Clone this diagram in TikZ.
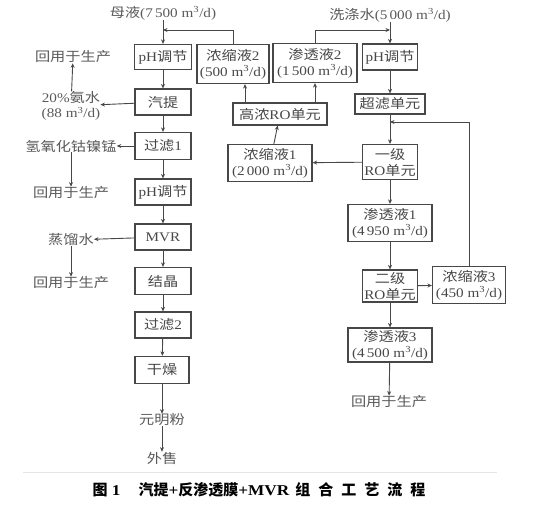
\documentclass[tikz,border=0pt]{standalone}
\usepackage{fontspec}
\setmainfont{Liberation Serif}[FakeStretch=1.15]
\newfontfamily\cjk{Noto Sans CJK SC}[FakeStretch=1.15]
\newfontfamily\capcjk{Noto Sans CJK SC}
\usetikzlibrary{arrows.meta}
\newcommand\zh[1]{{\cjk #1}}
\newcommand\mcube{m\textsuperscript{3}/d}
\tikzset{
  box/.style={draw=black!72, line width=1.2pt, inner sep=0pt, align=center,
    text=black!72, font=\fontsize{13.2}{16}\selectfont},
  lbl/.style={inner sep=0pt, align=center, text=black!65,
    font=\fontsize{13.2}{15}\selectfont},
  arr/.style={draw=black!72, line width=0.9pt, -{Stealth[length=4.5pt,width=4pt]}},
  ln/.style={draw=black!72, line width=0.9pt}
}
\begin{document}
\begin{tikzpicture}[x=1pt,y=-1pt]
\useasboundingbox (0,0) rectangle (533,508);
% left column
\node[lbl] (mu) at (163,13) {\zh{母液}(7\,500 \mcube)};
\node[box, minimum width=57pt, minimum height=25pt] (ph1) at (163,57) {pH\zh{调节}};
\node[box, minimum width=56pt, minimum height=26pt] (qt) at (163,102) {\zh{汽提}};
\node[box, minimum width=56pt, minimum height=27pt] (gl1) at (163,146) {\zh{过滤}1};
\node[box, minimum width=56pt, minimum height=26pt] (ph2) at (163,192) {pH\zh{调节}};
\node[box, minimum width=56pt, minimum height=26pt] (mvr) at (163,237) {MVR};
\node[box, minimum width=56pt, minimum height=27pt] (jj) at (163,281) {\zh{结晶}};
\node[box, minimum width=56pt, minimum height=26pt] (gl2) at (163,325) {\zh{过滤}2};
\node[box, minimum width=54pt, minimum height=27pt] (gz) at (162,370) {\zh{干燥}};
\node[lbl] (ymf) at (162,420) {\zh{元明粉}};
\node[lbl] (ws) at (162,458) {\zh{外售}};
% left side outputs
\node[lbl] (hy1) at (73,57) {\zh{回用于生产}};
\node[lbl] (an) at (71,106) {20\%\zh{氨水}\\(88 \mcube)};
\node[lbl] (qy) at (71,146) {\zh{氢氧化钴镍锰}};
\node[lbl] (hy2) at (71,193) {\zh{回用于生产}};
\node[lbl] (zls) at (71,240) {\zh{蒸馏水}};
\node[lbl] (hy3) at (71,283) {\zh{回用于生产}};
% middle
\node[box, minimum width=72pt, minimum height=39pt] (nsy2) at (233,64) {\zh{浓缩液}2\\(500 \mcube)};
\node[box, minimum width=84pt, minimum height=39pt] (sty2) at (315,63) {\zh{渗透液}2\\(1\,500 \mcube)};
\node[box, minimum width=94pt, minimum height=22pt] (gn) at (280,114) {\zh{高浓}RO\zh{单元}};
\node[box, minimum width=84pt, minimum height=37pt] (nsy1) at (270,163) {\zh{浓缩液}1\\(2\,000 \mcube)};
% right column
\node[lbl] (xds) at (390,15) {\zh{洗涤水}(5\,000 \mcube)};
\node[box, minimum width=55pt, minimum height=26pt] (ph3) at (390,57) {pH\zh{调节}};
\node[box, minimum width=70pt, minimum height=20pt] (cl) at (390,104) {\zh{超滤单元}};
\node[box, minimum width=55pt, minimum height=35pt] (ro1) at (390,162) {\zh{一级}\\RO\zh{单元}};
\node[box, minimum width=84pt, minimum height=37pt] (sty1) at (390,223) {\zh{渗透液}1\\(4\,950 \mcube)};
\node[box, minimum width=55pt, minimum height=32pt] (ro2) at (390,286) {\zh{二级}\\RO\zh{单元}};
\node[box, minimum width=73pt, minimum height=37pt] (nsy3) at (469,285) {\zh{浓缩液}3\\(450 \mcube)};
\node[box, minimum width=84pt, minimum height=34pt] (sty3) at (390,345) {\zh{渗透液}3\\(4\,500 \mcube)};
\node[lbl] (hy4) at (389,402) {\zh{回用于生产}};
% junctions
\coordinate (j1) at (163,30);
\coordinate (j2) at (390,30);
\coordinate (j3) at (390,122);
\coordinate (g1) at (245,103);
\coordinate (g2) at (315,103);
% left connectors
\draw[arr] (mu) -- (ph1);
\draw[arr] (ph1) -- (qt);
\draw[arr] (qt) -- (gl1);
\draw[arr] (gl1) -- (ph2);
\draw[arr] (ph2) -- (mvr);
\draw[arr] (mvr) -- (jj);
\draw[arr] (jj) -- (gl2);
\draw[arr] (gl2) -- (gz);
\draw[arr] (gz) -- (ymf);
\draw[arr] (ymf) -- (ws);
\draw[arr] (qt) -- (an);
\draw[arr] (an) -- (hy1);
\draw[arr] (gl1) -- (qy);
\draw[arr] (qy) -- (hy2);
\draw[arr] (mvr) -- (zls);
\draw[arr] (zls) -- (hy3);
% middle connectors
\draw[arr] (nsy2.north) |- (j1);
\draw[arr] (g1) -- (g1 |- nsy2.south);
\draw[arr] (g2) -- (sty2.south);
\draw[arr] (sty2.north) |- (j2);
\draw[arr] (nsy1) -- (gn);
\draw[arr] (ro1) -- (nsy1);
% right connectors
\draw[arr] (xds) -- (ph3);
\draw[arr] (ph3) -- (cl);
\draw[arr] (cl) -- (ro1);
\draw[arr] (ro1) -- (sty1);
\draw[arr] (sty1) -- (ro2);
\draw[arr] (ro2) -- (nsy3);
\draw[arr] (nsy3.north) |- (j3);
\draw[arr] (ro2) -- (sty3);
\draw[arr] (sty3) -- (hy4);
% faint frame rule
\draw[black!10, line width=1pt] (23,472) -- (497,472);
% caption
\node[inner sep=0pt, font=\fontsize{15}{17}\selectfont\bfseries] (cap) at (259,490)
  {{\capcjk 图}~1\hspace{18pt}{\capcjk 汽提}+{\capcjk 反渗透膜}+MVR\hspace{6pt}{\capcjk 组\hspace{8pt}合\hspace{8pt}工\hspace{8pt}艺\hspace{8pt}流\hspace{8pt}程}};
\end{tikzpicture}
\end{document}
